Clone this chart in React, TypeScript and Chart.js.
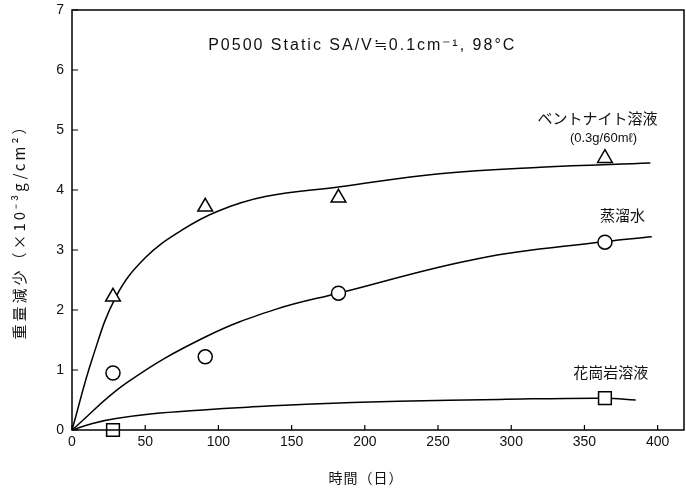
import React, { useEffect, useRef } from "react";
import { Chart, registerables } from "chart.js";

Chart.register(...registerables);

// Measured points (days, weight loss ×10^-3 g/cm^2)
const bentoniteDays = [28, 91, 182, 364];
const bentoniteLoss = [2.22, 3.72, 3.87, 4.53];
const waterDays = [28, 91, 182, 364];
const waterLoss = [0.95, 1.22, 2.28, 3.13];
const graniteDays = [28, 364];
const graniteLoss = [0.0, 0.53];

// Fitted curves
const bentoniteCurveDays = [0, 14, 30, 50, 75, 100, 132, 182, 251, 320, 395];
const bentoniteCurveLoss = [0, 1.2, 2.22, 2.87, 3.33, 3.65, 3.89, 4.05, 4.27, 4.38, 4.45];
const waterCurveDays = [0, 37, 91, 139, 182, 278, 364, 396];
const waterCurveLoss = [0, 0.78, 1.55, 2.01, 2.28, 2.86, 3.14, 3.22];
const graniteCurveDays = [0, 14, 30, 55, 87, 120, 160, 223, 292, 364, 385];
const graniteCurveLoss = [0, 0.11, 0.19, 0.27, 0.33, 0.38, 0.43, 0.48, 0.51, 0.53, 0.5];

const xTicks = [0, 50, 100, 150, 200, 250, 300, 350, 400];
const yTicks = [0, 1, 2, 3, 4, 5, 6, 7];

const xTitle = "時間（日）";
const yTitle = "重量減少（×10⁻³g/cm²）";
const header = "P0500 Static SA/V≒0.1cm⁻¹, 98°C";
const labelBentonite = "ベントナイト溶液";
const labelBentoniteSub = "(0.3g/60mℓ)";
const labelWater = "蒸溜水";
const labelGranite = "花崗岩溶液";

const pts = (xs: number[], ys: number[]) => xs.map((x, i) => ({ x, y: ys[i] }));

const SANS = "'Liberation Sans', Arial, sans-serif";
const CJK = "'Noto Sans CJK JP', sans-serif";

const framePlugin = {
  id: "frame",
  afterDraw(chart: any) {
    const { ctx, chartArea: a, scales } = chart;
    const xs = scales.x;
    const ys = scales.y;
    ctx.save();
    ctx.strokeStyle = "#000";
    ctx.lineWidth = 1.5;
    ctx.strokeRect(a.left, a.top, a.right - a.left, a.bottom - a.top);
    ctx.lineWidth = 1.2;
    ctx.beginPath();
    xTicks.forEach((t) => {
      const px = xs.getPixelForValue(t);
      ctx.moveTo(px, a.bottom);
      ctx.lineTo(px, a.bottom - 5);
    });
    yTicks.forEach((t) => {
      const py = ys.getPixelForValue(t);
      ctx.moveTo(a.left, py);
      ctx.lineTo(a.left + 6, py);
    });
    ctx.stroke();

    ctx.fillStyle = "#111";
    ctx.textBaseline = "middle";
    // header
    ctx.textAlign = "left";
    ctx.font = `16px ${SANS}`;
    ctx.letterSpacing = "2px";
    ctx.fillText(header, xs.getPixelForValue(93), ys.getPixelForValue(6.4));
    ctx.letterSpacing = "0px";
    // series labels
    ctx.textAlign = "center";
    ctx.font = `15px ${CJK}`;
    ctx.fillText(labelBentonite, xs.getPixelForValue(359), ys.getPixelForValue(5.2));
    ctx.font = `13px ${SANS}`;
    ctx.fillText(labelBentoniteSub, xs.getPixelForValue(363), ys.getPixelForValue(4.86));
    ctx.font = `15px ${CJK}`;
    ctx.fillText(labelWater, xs.getPixelForValue(376), ys.getPixelForValue(3.58));
    ctx.fillText(labelGranite, xs.getPixelForValue(368), ys.getPixelForValue(0.97));

    // axis titles
    ctx.font = `14px ${CJK}`;
    ctx.letterSpacing = "1px";
    ctx.fillText(xTitle, (a.left + a.right) / 2 - 12, 478);
    ctx.save();
    ctx.translate(19, 228);
    ctx.rotate(-Math.PI / 2);
    ctx.font = `15px ${CJK}`;
    ctx.letterSpacing = "3px";
    ctx.fillText(yTitle, 0, 0);
    ctx.restore();
    ctx.restore();
  },
};

export default function App() {
  const ref = useRef<HTMLCanvasElement | null>(null);
  useEffect(() => {
    if (!ref.current) return;
    const markerBase = {
      type: "scatter" as const,
      backgroundColor: "#fff",
      borderColor: "#000",
      borderWidth: 1.5,
      showLine: false,
      clip: false as const,
    };
    const curveBase = {
      type: "line" as const,
      borderColor: "#000",
      borderWidth: 1.5,
      pointRadius: 0,
      fill: false,
      tension: 0.4,
    };
    const chart = new Chart(ref.current, {
      type: "scatter",
      data: {
        datasets: [
          { ...markerBase, label: "bentonite", data: pts(bentoniteDays, bentoniteLoss), pointStyle: "triangle", pointRadius: 8.5 },
          { ...markerBase, label: "water", data: pts(waterDays, waterLoss), pointStyle: "circle", pointRadius: 7 },
          { ...markerBase, label: "granite", data: pts(graniteDays, graniteLoss), pointStyle: "rect", pointRadius: 9 },
          { ...curveBase, label: "bentonite fit", data: pts(bentoniteCurveDays, bentoniteCurveLoss) },
          { ...curveBase, label: "water fit", data: pts(waterCurveDays, waterCurveLoss) },
          { ...curveBase, label: "granite fit", data: pts(graniteCurveDays, graniteCurveLoss) },
        ] as any,
      },
      options: {
        responsive: false,
        animation: false,
        layout: { autoPadding: false, padding: { left: 0, top: 10, right: 2, bottom: 0 } },
        plugins: { legend: { display: false }, tooltip: { enabled: false } },
        scales: {
          x: {
            type: "linear",
            min: 0,
            max: 418,
            grid: { display: false, drawTicks: false },
            border: { display: false },
            afterBuildTicks: (s: any) => { s.ticks = xTicks.map((v) => ({ value: v })); },
            afterFit: (s: any) => { s.height = 60; s.paddingLeft = 0; s.paddingRight = 0; },
            ticks: { color: "#111", font: { family: SANS, size: 14 }, padding: 4, maxRotation: 0 },
          },
          y: {
            type: "linear",
            min: 0,
            max: 7,
            grid: { display: false, drawTicks: false },
            border: { display: false },
            afterBuildTicks: (s: any) => { s.ticks = yTicks.map((v) => ({ value: v })); },
            afterFit: (s: any) => { s.width = 72; s.paddingTop = 0; s.paddingBottom = 0; },
            ticks: { color: "#111", font: { family: SANS, size: 14 }, padding: 8 },
          },
        },
      },
      plugins: [framePlugin],
    });
    return () => chart.destroy();
  }, []);
  return (
    <div style={{ position: "fixed", left: 0, top: 0, width: 686, height: 490, background: "#fff" }}>
      <canvas ref={ref} width={686} height={490} style={{ display: "block" }} />
    </div>
  );
}
